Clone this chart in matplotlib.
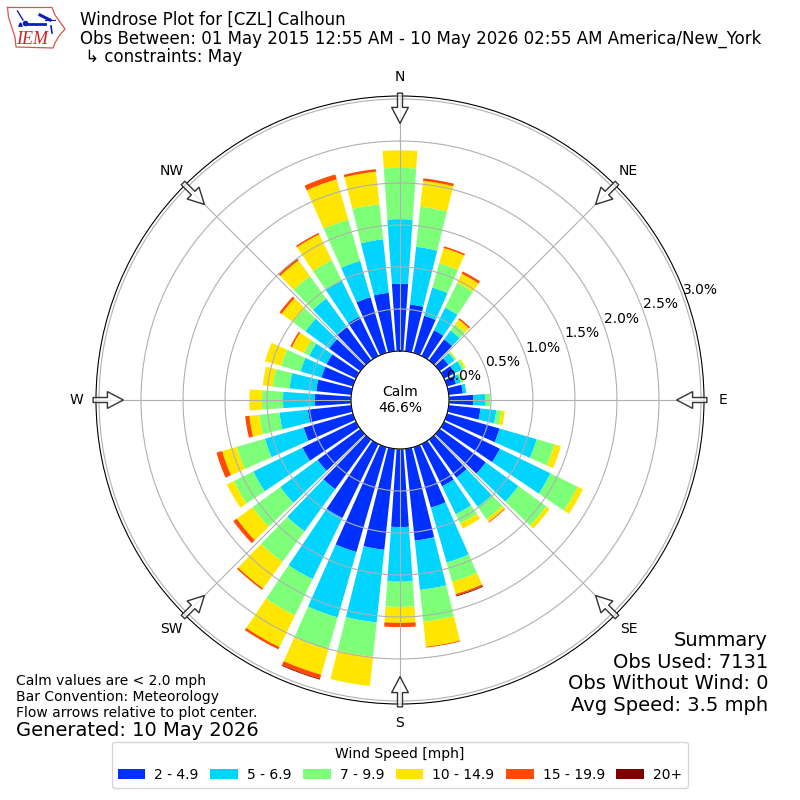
import numpy as np
import matplotlib
matplotlib.use("Agg")
import matplotlib.pyplot as plt
from matplotlib.patches import Patch

directions = list(range(0, 360, 10))
compass = ["N", "NE", "E", "SE", "S", "SW", "W", "NW"]
compass_deg = [0, 45, 90, 135, 180, 225, 270, 315]
r_ticks = [0, 0.5, 1.0, 1.5, 2.0, 2.5, 3.0]
r_labels = ["0.0%", "0.5%", "1.0%", "1.5%", "2.0%", "2.5%", "3.0%"]
bin_labels = ["2 - 4.9", "5 - 6.9", "7 - 9.9", "10 - 14.9", "15 - 19.9", "20+"]
bin_colors = ["#0030ff", "#00d4ff", "#7dff7a", "#ffe600", "#ff4a00", "#800000"]

# cumulative frequency (%) at the top of each speed bin, per direction
top_2_49 = [.80,.56,.46,.34,.31,.13,.14,.11,.17,.29,.38,.65,.74,.68,.56,.56,.75,1.10,
            .93,1.21,1.30,.98,.73,.63,.71,.61,.52,.43,.42,.39,.39,.46,.49,.52,.69,.70]
top_5_69 = [1.57,1.25,.81,.64,.44,.22,.24,.17,.21,.43,.57,1.11,1.41,1.16,.99,.93,1.43,1.69,
            1.58,2.08,2.11,1.79,1.35,1.18,1.36,1.09,.86,.81,.74,.65,.62,.81,.91,1.00,1.14,1.34]
top_7_99 = [2.18,1.73,1.11,.97,.53,.24,.27,.20,.21,.49,.63,1.33,1.77,1.57,1.17,1.05,1.67,2.07,
            1.88,2.49,2.51,2.27,1.80,1.59,1.62,1.44,1.10,1.06,.94,.89,.69,.99,1.24,1.27,1.65,1.76]
top_10_149 = [2.39,2.04,1.30,1.09,.60,.25,.29,.21,.21,.49,.67,1.41,1.84,1.62,1.21,1.12,1.82,2.37,
              2.07,2.84,2.82,2.69,2.19,1.82,1.71,1.62,1.22,1.21,1.06,1.09,.85,1.16,1.47,1.61,2.15,2.15]
top_15_199 = [2.39,2.07,1.32,1.12,.62,.25,.29,.21,.21,.49,.67,1.41,1.84,1.62,1.22,1.12,1.84,2.38,
              2.12,2.84,2.87,2.72,2.21,1.87,1.71,1.69,1.27,1.21,1.06,1.09,.87,1.19,1.50,1.63,2.21,2.18]
top_20up = [2.39,2.07,1.32,1.12,.62,.25,.29,.21,.21,.49,.67,1.41,1.84,1.62,1.22,1.12,1.85,2.38,
            2.12,2.84,2.88,2.72,2.21,1.87,1.71,1.69,1.27,1.21,1.06,1.09,.87,1.19,1.50,1.63,2.21,2.18]
tops = [top_2_49, top_5_69, top_7_99, top_10_149, top_15_199, top_20up]

calm_text = "Calm\n46.6%"
title_lines = "Windrose Plot for [CZL] Calhoun\nObs Between: 01 May 2015 12:55 AM - 10 May 2026 02:55 AM America/New_York\n \u21b3 constraints: May"
summary_lines = "Summary\nObs Used: 7131\nObs Without Wind: 0\nAvg Speed: 3.5 mph"
notes = "Calm values are < 2.0 mph\nBar Convention: Meteorology\nFlow arrows relative to plot center."
generated = "Generated: 10 May 2026"

fig = plt.figure(figsize=(8, 8), dpi=100)
ax = fig.add_axes([0.12, 0.12, 0.76, 0.76], polar=True)
ax.set_theta_zero_location("N")
ax.set_theta_direction(-1)

theta = np.deg2rad(directions)
bottom = np.zeros(len(directions))
for top, col in zip(tops, bin_colors):
    top = np.asarray(top)
    ax.bar(theta, top - bottom, width=np.deg2rad(8), bottom=bottom, color=col, linewidth=0, zorder=1)
    bottom = top

ax.set_rorigin(-0.583)
ax.set_rmin(0)
ax.set_rmax(3.036)
ax.set_rticks(r_ticks)
ax.set_yticklabels(r_labels)
ax.set_rlabel_position(70)
ax.set_xticks(np.deg2rad(compass_deg))
ax.set_xticklabels(compass)
ax.tick_params(axis="x", pad=3.3)
ax.grid(True)

for d in compass_deg:
    ax.annotate("", xy=(np.deg2rad(d), 2.71), xytext=(np.deg2rad(d), 3.07),
                arrowprops=dict(facecolor=(1, 1, 1, 0.75), edgecolor="#333333", linewidth=1,
                                width=3.6, headwidth=12, headlength=11.5, shrink=0),
                annotation_clip=False)

fig.text(0.5, 0.5, calm_text, ha="center", va="center", fontsize=10, linespacing=1.2)

fig.text(80 / 800, 1 - 11 / 800, title_lines, ha="left", va="top", fontsize=12.01, linespacing=1.02)
fig.text(768 / 800, 1 - 715 / 800, summary_lines, ha="right", va="bottom", fontsize=14, linespacing=1.17)
fig.text(16 / 800, 1 - 720 / 800, notes, ha="left", va="bottom", fontsize=10, linespacing=1.2)
fig.text(16 / 800, 1 - 740 / 800, generated, ha="left", va="bottom", fontsize=14)

handles = [Patch(facecolor=c, label=l) for c, l in zip(bin_colors, bin_labels)]
fig.legend(handles=handles, title="Wind Speed [mph]", ncol=6, loc="lower center",
           bbox_to_anchor=(0.5, 0.0068), fontsize=10, title_fontsize=10,
           handlelength=2.0, handletextpad=0.65, columnspacing=0.82)

# logo
logo = fig.add_axes([0, 1 - 55 / 800, 70 / 800, 55 / 800])
logo.set_xlim(0, 70)
logo.set_ylim(55, 0)
logo.axis("off")
outline_x = [7.5, 52, 55, 60, 65, 59, 55, 53, 16, 15, 12, 8.5, 7.5]
outline_y = [7.5, 7.5, 15, 22, 29, 36, 43, 48, 47, 37, 28, 17, 7.5]
logo.plot(outline_x, outline_y, color="#d9534f", lw=0.9)
logo.plot([25, 45], [24, 24], color="#0a1fc0", lw=2)
logo.plot([45, 55], [20, 20], color="#0a1fc0", lw=0.8)
logo.plot([17.5, 23], [11, 20], color="#0a1fc0", lw=1)
logo.plot([40, 50], [15, 20], color="#0a1fc0", lw=2.2)
logo.plot([51, 52], [26, 33], color="#0a1fc0", lw=1.2)
logo.plot([25], [23], "o", color="#0a1fc0", ms=3)
logo.plot([20], [24], "^", color="#0a1fc0", ms=2.5)
logo.text(16.5, 44, "IEM", color="#d62020", fontsize=13, family="Liberation Serif", style="italic")

fig.savefig("out.png", dpi=100)
